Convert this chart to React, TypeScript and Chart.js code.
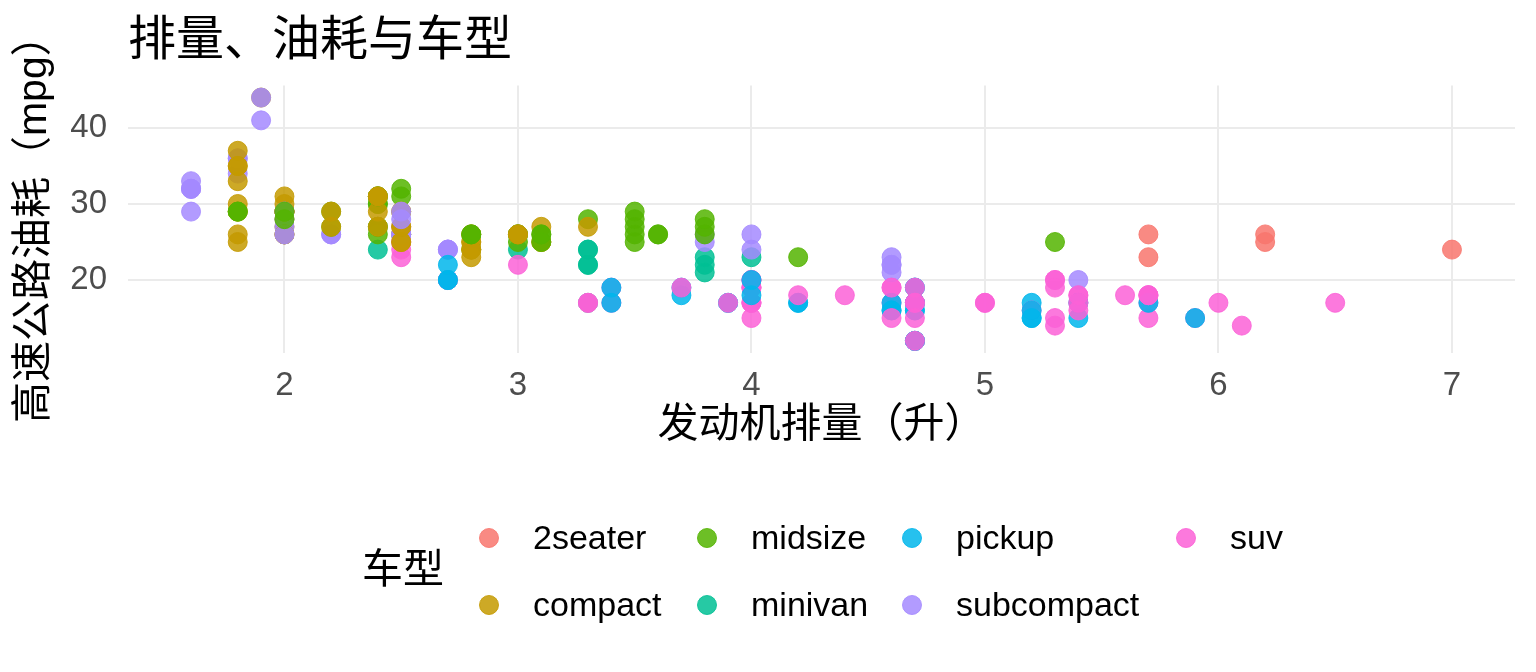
import React, { useEffect, useRef } from "react";
import { Chart, registerables } from "chart.js";

Chart.register(...registerables);

const TITLE = "排量、油耗与车型";
const X_TITLE = "发动机排量（升）";
const Y_TITLE = "高速公路油耗（mpg）";
const LEGEND_TITLE = "车型";

const X_TICKS = [2, 3, 4, 5, 6, 7];
const Y_TICKS = [20, 30, 40];

const CLASSES = ["2seater", "compact", "midsize", "minivan", "pickup", "subcompact", "suv"];
const CLASS_COLORS = ["#F8766D", "#C49A00", "#53B400", "#00C094", "#00B6EB", "#A58AFF", "#FB61D7"];

const TWO = "2seater";
const CMP = "compact";
const MID = "midsize";
const VAN = "minivan";
const PKP = "pickup";
const SUB = "subcompact";
const SUV = "suv";

// cars in data order (drawing order)
const DISPL = [
  1.8, 1.8, 2.0, 2.0, 2.8, 2.8, 3.1,
  1.8, 1.8, 2.0, 2.0, 2.8, 2.8, 3.1, 3.1,
  2.8, 3.1, 4.2,
  5.3, 5.3, 5.3, 5.7, 6.0,
  5.7, 5.7, 6.2, 6.2, 7.0,
  5.3, 5.3, 5.7, 6.5,
  2.4, 2.4, 3.1, 3.5, 3.6,
  2.4, 3.0, 3.3, 3.3, 3.3, 3.3, 3.3, 3.8, 3.8, 3.8, 4.0,
  3.7, 3.7, 3.9, 3.9, 4.7, 4.7, 4.7, 5.2, 5.2,
  3.9, 4.7, 4.7, 4.7, 5.2, 5.7, 5.9,
  4.7, 4.7, 4.7, 4.7, 4.7, 4.7, 5.2, 5.2, 5.7, 5.9,
  4.6, 5.4, 5.4,
  4.0, 4.0, 4.0, 4.0, 4.6, 5.0,
  4.2, 4.2, 4.6, 4.6, 4.6, 5.4, 5.4,
  3.8, 3.8, 4.0, 4.0, 4.6, 4.6, 4.6, 4.6, 5.4,
  1.6, 1.6, 1.6, 1.6, 1.6, 1.8, 1.8, 1.8, 2.0,
  2.4, 2.4, 2.4, 2.4, 2.5, 2.5, 3.3,
  2.0, 2.0, 2.0, 2.0, 2.7, 2.7, 2.7,
  3.0, 3.7, 4.0, 4.7, 4.7, 4.7, 5.7, 6.1,
  4.0, 4.2, 4.4, 4.6,
  5.4, 5.4, 5.4,
  4.0, 4.0, 4.6, 5.0,
  2.4, 2.4, 2.5, 2.5, 3.5, 3.5,
  3.0, 3.0, 3.5,
  3.3, 3.3, 4.0, 5.6,
  3.1, 3.8, 3.8, 3.8, 5.3,
  2.5, 2.5, 2.5, 2.5, 2.5, 2.5,
  2.2, 2.2, 2.5, 2.5, 2.5, 2.5, 2.5, 2.5,
  2.7, 2.7, 3.4, 3.4, 4.0, 4.7,
  2.2, 2.2, 2.4, 2.4, 3.0, 3.0, 3.5,
  2.2, 2.2, 2.4, 2.4, 3.0, 3.0, 3.3,
  1.8, 1.8, 1.8, 1.8, 1.8,
  4.7, 5.7,
  2.7, 2.7, 2.7, 3.4, 3.4, 4.0, 4.0,
  2.0, 2.0, 2.0, 2.0, 2.8,
  1.9, 2.0, 2.0, 2.0, 2.0, 2.5, 2.5, 2.8, 2.8,
  1.9, 1.9, 2.0, 2.0, 2.5, 2.5,
  1.8, 1.8, 2.0, 2.0, 2.8, 2.8, 3.6,
];

const HWY = [
  29, 29, 31, 30, 26, 26, 27,
  26, 25, 28, 27, 25, 25, 25, 25,
  24, 25, 23,
  20, 15, 20, 17, 17,
  26, 23, 26, 25, 24,
  19, 14, 15, 17,
  27, 30, 26, 29, 26,
  24, 24, 22, 22, 24, 24, 17, 22, 21, 23, 23,
  19, 18, 17, 17, 19, 19, 12, 17, 15,
  17, 17, 12, 17, 16, 18, 15,
  16, 12, 17, 17, 16, 12, 15, 16, 17, 15,
  17, 17, 18,
  17, 19, 17, 19, 19, 17,
  17, 17, 16, 16, 17, 15, 17,
  26, 25, 26, 24, 21, 22, 23, 22, 20,
  33, 32, 32, 29, 32, 34, 36, 36, 29,
  26, 27, 30, 31, 26, 26, 28,
  26, 29, 28, 27, 24, 24, 24,
  22, 19, 20, 17, 12, 19, 18, 14,
  15, 18, 18, 15,
  17, 16, 18,
  17, 19, 19, 17,
  29, 27, 31, 32, 27, 26,
  26, 25, 25,
  17, 17, 20, 18,
  26, 26, 27, 28, 25,
  25, 24, 27, 25, 26, 23,
  26, 26, 26, 26, 25, 27, 25, 27,
  20, 20, 19, 17, 20, 17,
  29, 27, 31, 31, 26, 26, 28,
  27, 29, 31, 31, 26, 26, 27,
  30, 33, 35, 37, 35,
  15, 18,
  20, 20, 22, 17, 19, 18, 20,
  29, 26, 29, 29, 24,
  44, 29, 26, 29, 29, 29, 29, 23, 24,
  44, 41, 29, 26, 28, 29,
  29, 29, 28, 29, 26, 26, 26,
];

const CAR_CLASS = [
  CMP, CMP, CMP, CMP, CMP, CMP, CMP,
  CMP, CMP, CMP, CMP, CMP, CMP, CMP, CMP,
  MID, MID, MID,
  SUV, SUV, SUV, SUV, SUV,
  TWO, TWO, TWO, TWO, TWO,
  SUV, SUV, SUV, SUV,
  MID, MID, MID, MID, MID,
  VAN, VAN, VAN, VAN, VAN, VAN, VAN, VAN, VAN, VAN, VAN,
  PKP, PKP, PKP, PKP, PKP, PKP, PKP, PKP, PKP,
  SUV, SUV, SUV, SUV, SUV, SUV, SUV,
  PKP, PKP, PKP, PKP, PKP, PKP, PKP, PKP, PKP, PKP,
  SUV, SUV, SUV,
  SUV, SUV, SUV, SUV, SUV, SUV,
  PKP, PKP, PKP, PKP, PKP, PKP, PKP,
  SUB, SUB, SUB, SUB, SUB, SUB, SUB, SUB, SUB,
  SUB, SUB, SUB, SUB, SUB, SUB, SUB, SUB, SUB,
  MID, MID, MID, MID, MID, MID, MID,
  SUB, SUB, SUB, SUB, SUB, SUB, SUB,
  SUV, SUV, SUV, SUV, SUV, SUV, SUV, SUV,
  SUV, SUV, SUV, SUV,
  SUV, SUV, SUV,
  SUV, SUV, SUV, SUV,
  CMP, CMP, MID, MID, MID, MID,
  MID, MID, MID,
  SUV, SUV, SUV, SUV,
  MID, MID, MID, MID, MID,
  SUV, SUV, SUV, SUV, SUV, SUV,
  SUB, SUB, SUB, SUB, CMP, CMP, CMP, CMP,
  SUV, SUV, SUV, SUV, SUV, SUV,
  MID, MID, MID, MID, MID, MID, MID,
  CMP, CMP, CMP, CMP, CMP, CMP, CMP,
  CMP, CMP, CMP, CMP, CMP,
  SUV, SUV,
  PKP, PKP, PKP, PKP, PKP, PKP, PKP,
  CMP, CMP, CMP, CMP, CMP,
  CMP, CMP, CMP, CMP, CMP, CMP, CMP, CMP, CMP,
  SUB, SUB, SUB, SUB, SUB, SUB,
  MID, MID, MID, MID, MID, MID, MID,
];

const FONT = "'Liberation Sans', Arial, 'Noto Sans CJK SC', sans-serif";
const ALPHA = 0.85;

function rgba(hex: string, a: number) {
  const n = parseInt(hex.slice(1), 16);
  return `rgba(${(n >> 16) & 255}, ${(n >> 8) & 255}, ${n & 255}, ${a})`;
}

function classColor(name: string) {
  return rgba(CLASS_COLORS[CLASSES.indexOf(name)], ALPHA);
}

function expandRange(values: number[]) {
  const lo = Math.min(...values);
  const hi = Math.max(...values);
  const pad = (hi - lo) * 0.05;
  return [lo - pad, hi + pad];
}

const textPlugin = {
  id: "textSetup",
  beforeDraw(chart: any) {
    const ctx = chart.ctx as any;
    ctx.fontKerning = "none";
    ctx.textRendering = "optimizeSpeed";
  },
};

const legendPlugin = {
  id: "ggLegend",
  afterDraw(chart: any) {
    const ctx = chart.ctx as CanvasRenderingContext2D;
    const colX = [489, 707, 912, 1186];
    const rowY = [538, 605];
    ctx.save();
    ctx.textAlign = "left";
    ctx.textBaseline = "middle";
    ctx.fillStyle = "#000000";
    ctx.font = `41px ${FONT}`;
    ctx.fillText(LEGEND_TITLE, 362, 572);
    ctx.font = `34px ${FONT}`;
    CLASSES.forEach((name, i) => {
      const cx = colX[Math.floor(i / 2)];
      const cy = rowY[i % 2];
      ctx.beginPath();
      ctx.arc(cx, cy, 9.5, 0, Math.PI * 2);
      ctx.fillStyle = classColor(name);
      ctx.fill();
      ctx.lineWidth = 1;
      ctx.strokeStyle = classColor(name);
      ctx.stroke();
      ctx.fillStyle = "#000000";
      ctx.fillText(name, cx + 44, cy + 2);
    });
    ctx.restore();
  },
};

export default function App() {
  const canvasRef = useRef<HTMLCanvasElement | null>(null);

  useEffect(() => {
    document.body.style.margin = "0";
    const canvas = canvasRef.current;
    if (!canvas) return;
    canvas.style.setProperty("text-spacing-trim", "space-all");

    const [xMin, xMax] = expandRange(DISPL);
    const [yMin, yMax] = expandRange(HWY);
    const colors = CAR_CLASS.map(classColor);

    const chart = new Chart(canvas, {
      type: "scatter",
      data: {
        datasets: [
          {
            label: "车型",
            data: DISPL.map((x, i) => ({ x, y: HWY[i] })),
            backgroundColor: colors,
            borderColor: colors,
            borderWidth: 1,
            pointRadius: 9.5,
            pointHoverRadius: 9.5,
          },
        ],
      },
      plugins: [textPlugin, legendPlugin],
      options: {
        animation: false,
        responsive: false,
        events: [],
        layout: { padding: { top: 0, left: 0, right: 21, bottom: 209 } },
        plugins: {
          legend: { display: false },
          tooltip: { enabled: false },
          title: {
            display: true,
            text: TITLE,
            align: "start",
            fullSize: false,
            color: "#000000",
            font: { family: FONT, size: 48, weight: "normal" },
            padding: { top: 13, bottom: 14.8 },
          },
        },
        scales: {
          x: {
            type: "linear",
            min: xMin,
            max: xMax,
            afterBuildTicks: (s: any) => {
              s.ticks = X_TICKS.map((v) => ({ value: v }));
            },
            afterFit: (s: any) => {
              s.height = 110;
            },
            grid: { color: "#EBEBEB", lineWidth: 2, drawTicks: false },
            border: { display: false },
            ticks: { padding: 13, color: "#4D4D4D", font: { family: FONT, size: 33 } },
            title: {
              display: true,
              text: X_TITLE,
              color: "#000000",
              font: { family: FONT, size: 41 },
              padding: { top: 0, bottom: 13 },
            },
          },
          y: {
            type: "linear",
            min: yMin,
            max: yMax,
            afterBuildTicks: (s: any) => {
              s.ticks = Y_TICKS.map((v) => ({ value: v }));
            },
            afterFit: (s: any) => {
              s.width = 128;
            },
            grid: { color: "#EBEBEB", lineWidth: 2, drawTicks: false },
            border: { display: false },
            ticks: { padding: 21, color: "#4D4D4D", font: { family: FONT, size: 33 } },
            title: {
              display: true,
              text: Y_TITLE,
              color: "#000000",
              font: { family: FONT, size: 41 },
              padding: { top: 10, bottom: 0 },
            },
          },
        },
      } as any,
    });

    return () => {
      chart.destroy();
    };
  }, []);

  return (
    <div style={{ width: 1536, height: 672, background: "#ffffff" }}>
      <canvas ref={canvasRef} width={1536} height={672} style={{ display: "block", width: 1536, height: 672 }} />
    </div>
  );
}
